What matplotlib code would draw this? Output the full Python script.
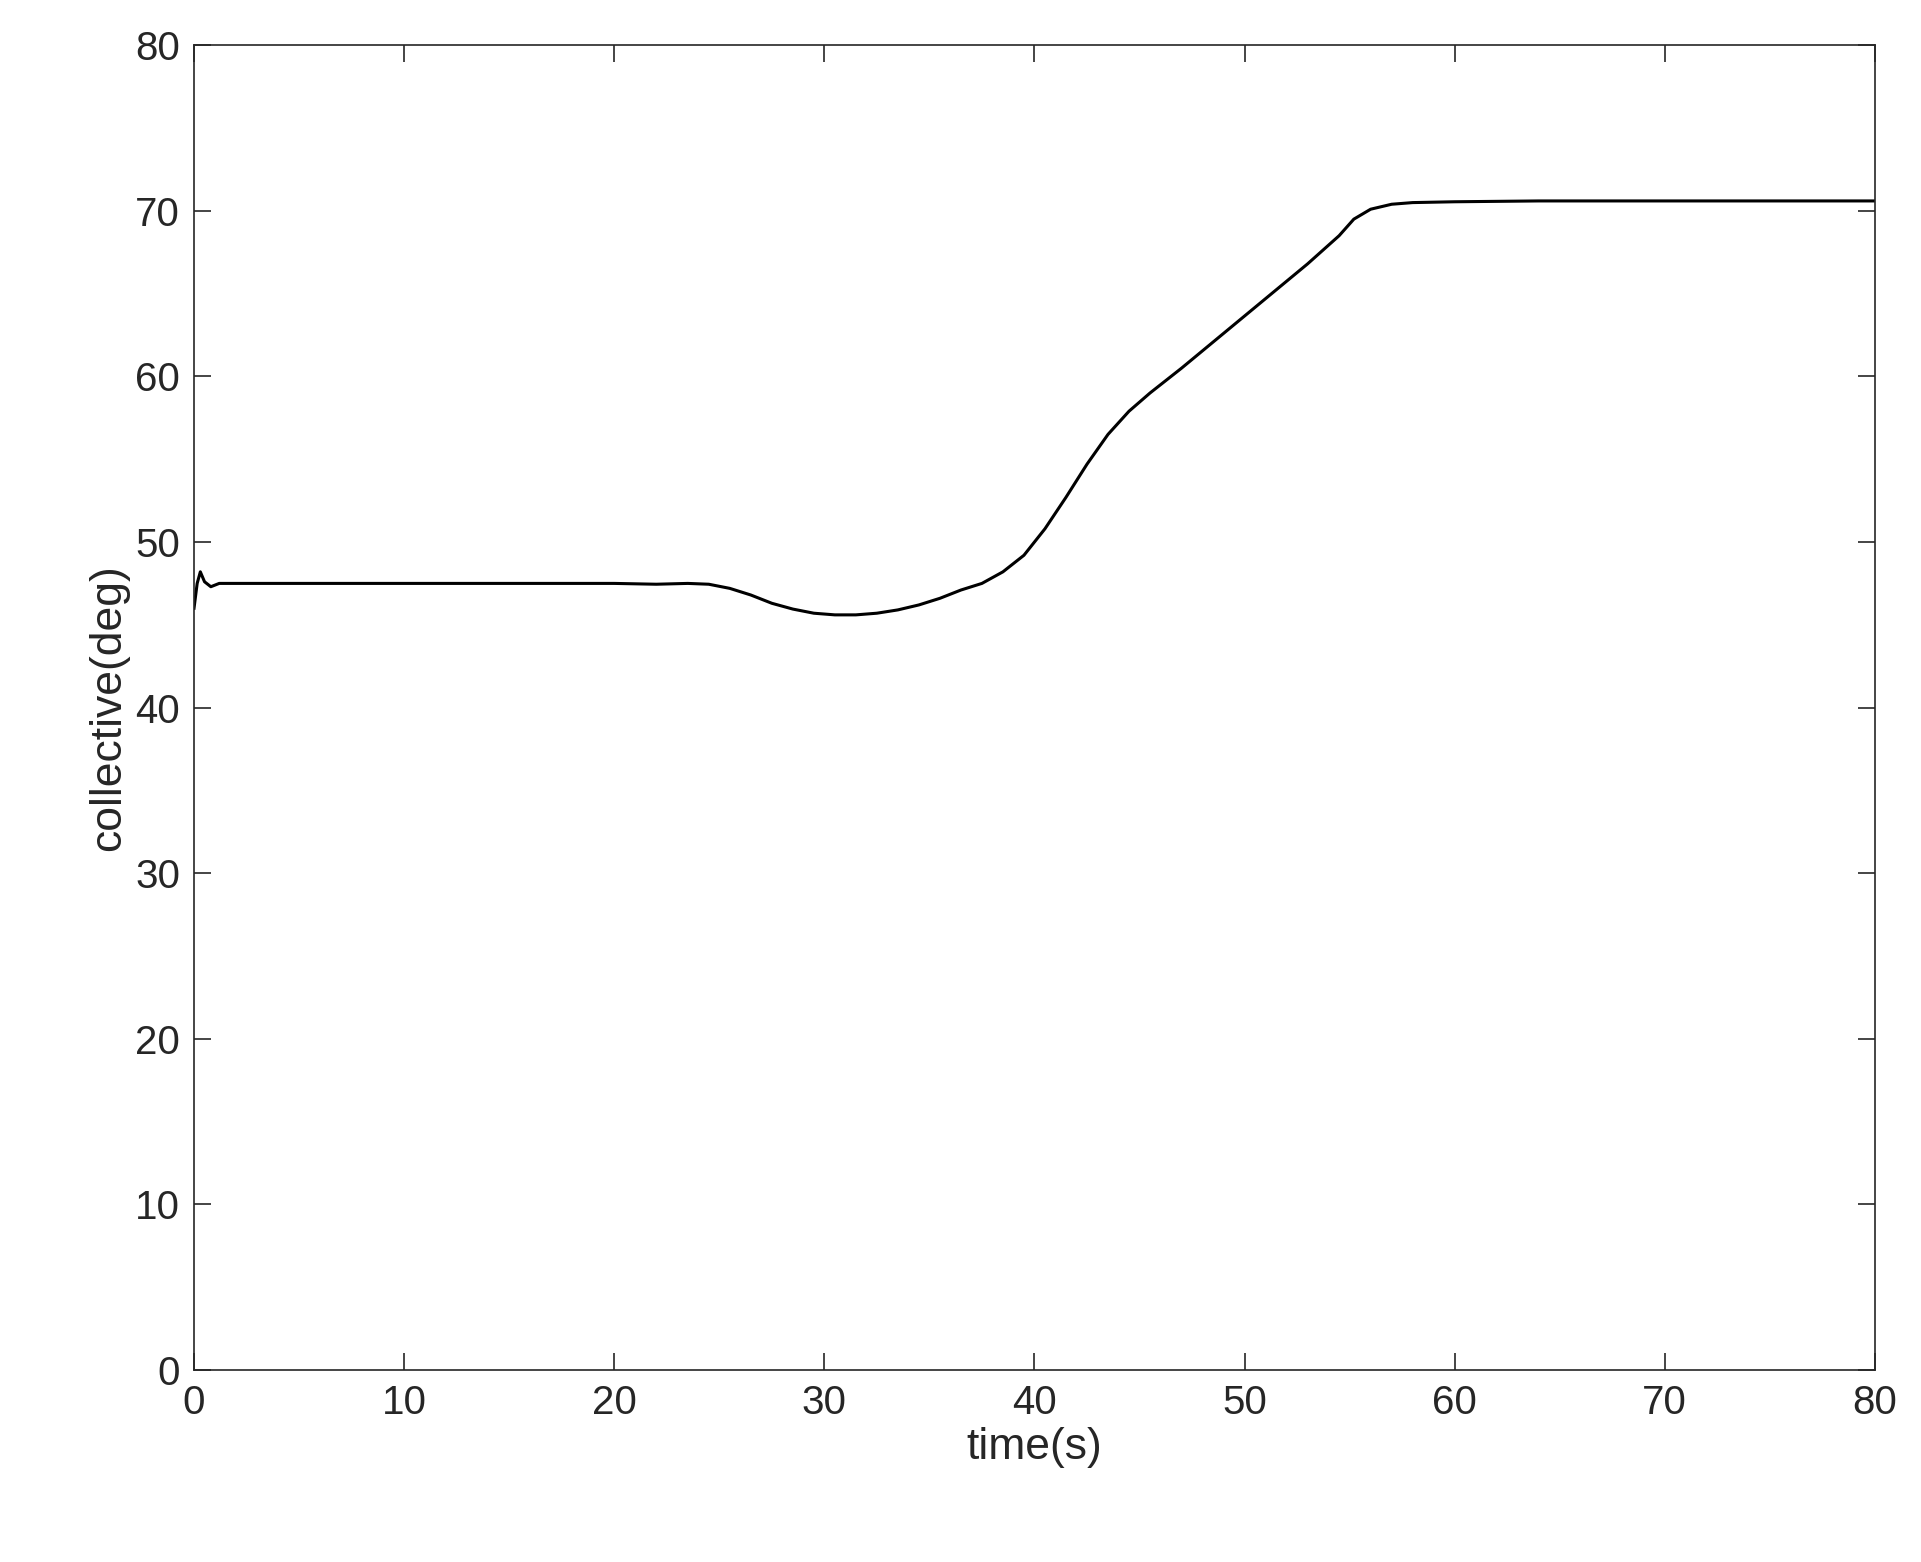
import matplotlib
matplotlib.use('Agg')
import matplotlib.pyplot as plt

plt.rcParams['font.family'] = ['Liberation Sans', 'DejaVu Sans']

# values
time_s = [0.0, 0.15, 0.3, 0.5, 0.8, 1.2, 5, 10, 15, 20, 22, 23.5, 24.5, 25.5, 26.5, 27.5,
          28.5, 29.5, 30.5, 31.5, 32.5, 33.5, 34.5, 35.5, 36.5, 37.5, 38.5, 39.5, 40.5,
          41.5, 42.5, 43.5, 44.5, 45.5, 47, 49, 51, 53, 54.5, 55.2, 56, 57, 58, 60, 64, 70, 80]
collective_deg = [46.0, 47.5, 48.2, 47.6, 47.3, 47.5, 47.5, 47.5, 47.5, 47.5, 47.45, 47.5, 47.45,
                  47.2, 46.8, 46.3, 45.95, 45.7, 45.6, 45.6, 45.7, 45.9, 46.2, 46.6, 47.1,
                  47.5, 48.2, 49.2, 50.8, 52.7, 54.7, 56.5, 57.9, 59.0, 60.5, 62.6, 64.7,
                  66.8, 68.5, 69.5, 70.1, 70.4, 70.5, 70.55, 70.6, 70.6, 70.6]

fig = plt.figure(figsize=(19.21, 15.62), dpi=100)
ax = fig.add_axes([0.101, 0.123, 0.875, 0.848])
ax.plot(time_s, collective_deg, color='black', linewidth=2.2)

ax.set_xlim(0, 80)
ax.set_ylim(0, 80)
ax.set_xticks(range(0, 81, 10))
ax.set_yticks(range(0, 81, 10))
ax.tick_params(direction='in', length=12, width=1.2, labelsize=29, colors='#262626', pad=10,
               top=True, right=True)
for s in ax.spines.values():
    s.set_linewidth(1.2)
    s.set_color('#262626')
ax.set_xlabel('time(s)', fontsize=32, color='#262626')
ax.set_ylabel('collective(deg)', fontsize=32, color='#262626')

fig.savefig('out.png', dpi=100)
